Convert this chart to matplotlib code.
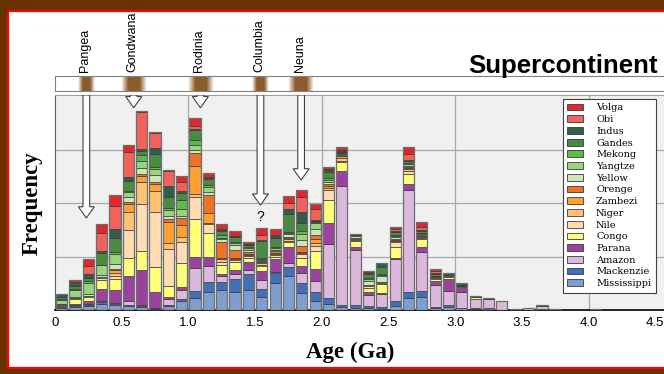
import numpy as np
import matplotlib
matplotlib.use('Agg')
import matplotlib.pyplot as plt
from matplotlib.patches import Rectangle, FancyArrow, Patch
from matplotlib.transforms import blended_transform_factory

# --- data: stacked frequency per 0.1 Ga age bin (bins 0.0-4.1 Ga) ---
bin_left = np.arange(41) * 0.1

mississippi = [0.04, 0.05, 0.08, 0.11, 0.09, 0.07, 0.05, 0.02, 0.07, 0.17, 0.22, 0.33, 0.37, 0.33, 0.38, 0.25, 0.50, 0.64, 0.31, 0.16,
               0.11, 0.05, 0.03, 0.03, 0.02, 0.07, 0.22, 0.25, 0.03, 0.06, 0.03, 0.01, 0, 0, 0, 0, 0, 0, 0, 0, 0]
mackenzie = [0.02, 0.03, 0.02, 0.04, 0.03, 0.03, 0.02, 0.01, 0.02, 0.04, 0.14, 0.20, 0.16, 0.25, 0.29, 0.14, 0.19, 0.16, 0.20, 0.17,
             0.11, 0.04, 0.06, 0.04, 0.03, 0.09, 0.12, 0.11, 0.03, 0.04, 0.01, 0.03, 0.03, 0, 0.02, 0, 0.02, 0, 0, 0, 0.02]
amazon = [0.01, 0.02, 0.01, 0.02, 0.02, 0.06, 0.03, 0.01, 0.12, 0.17, 0.42, 0.30, 0.10, 0.09, 0.08, 0.17, 0.02, 0.07, 0.19, 0.21,
          1.02, 2.23, 1.04, 0.21, 0.25, 0.80, 1.90, 0.73, 0.40, 0.25, 0.30, 0.17, 0.17, 0.17, 0, 0.04, 0.05, 0, 0, 0, 0]
parana = [0.01, 0.02, 0.05, 0.23, 0.24, 0.47, 0.64, 0.29, 0.03, 0.05, 0.21, 0.16, 0.05, 0.07, 0.14, 0.17, 0.25, 0.31, 0.12, 0.23,
          0.39, 0.27, 0.05, 0.06, 0.02, 0.02, 0.11, 0.09, 0.09, 0.23, 0.09, 0, 0, 0, 0, 0, 0, 0, 0, 0, 0]
congo = [0.02, 0.08, 0.09, 0.16, 0.20, 0.35, 0.37, 0.47, 0.20, 0.44, 0.71, 0.45, 0.17, 0.15, 0.09, 0.09, 0.03, 0.09, 0.16, 0.33,
         0.42, 0.17, 0.11, 0.08, 0.16, 0.19, 0.19, 0.14, 0.03, 0.03, 0.01, 0.03, 0, 0, 0, 0, 0, 0, 0, 0, 0]
nile = [0, 0.02, 0.01, 0.03, 0.06, 0.52, 0.87, 1.03, 0.70, 0.40, 0.42, 0.17, 0.04, 0.04, 0.03, 0.03, 0.03, 0.02, 0.06, 0.09,
        0.19, 0.03, 0.02, 0.02, 0.02, 0.10, 0.06, 0.02, 0.02, 0.03, 0, 0, 0, 0, 0, 0, 0, 0, 0, 0, 0]
niger = [0.01, 0.01, 0.01, 0.03, 0.06, 0.33, 0.42, 0.40, 0.12, 0.09, 0.05, 0.02, 0.06, 0.02, 0.02, 0.02, 0.03, 0.03, 0.03, 0.06,
         0.04, 0.06, 0.02, 0.02, 0.03, 0.02, 0.03, 0.02, 0.02, 0.02, 0, 0, 0, 0, 0, 0, 0, 0, 0, 0, 0]
zambezi = [0, 0, 0, 0, 0.04, 0.16, 0.11, 0.12, 0.39, 0.22, 0.52, 0.19, 0.03, 0.02, 0.02, 0.02, 0.02, 0.02, 0.02, 0.07,
           0.04, 0.02, 0.02, 0, 0, 0.02, 0.03, 0.02, 0, 0, 0, 0, 0, 0, 0, 0, 0, 0, 0, 0, 0]
orenge = [0, 0, 0, 0, 0.03, 0.03, 0.04, 0.04, 0.06, 0.14, 0.24, 0.33, 0.30, 0.15, 0.03, 0.02, 0.03, 0.02, 0.10, 0.08,
          0.04, 0.02, 0, 0, 0, 0.02, 0.02, 0.02, 0.02, 0, 0, 0, 0, 0, 0, 0, 0, 0, 0, 0, 0]
yellow = [0.01, 0.02, 0.02, 0.04, 0.09, 0.09, 0.11, 0.14, 0.04, 0.03, 0.07, 0.06, 0.04, 0.10, 0.04, 0.02, 0.03, 0.06, 0.12, 0.11,
          0.03, 0.02, 0.03, 0.09, 0.10, 0.03, 0.02, 0.02, 0, 0, 0, 0, 0, 0, 0, 0, 0, 0, 0, 0, 0]
yangtze = [0.06, 0.12, 0.22, 0.19, 0.19, 0.09, 0.12, 0.11, 0.12, 0.14, 0.08, 0.09, 0.03, 0.03, 0.03, 0.02, 0.03, 0.02, 0.11, 0.12,
           0.04, 0.02, 0.02, 0.03, 0.02, 0.03, 0.02, 0.02, 0, 0, 0, 0, 0, 0, 0, 0, 0, 0, 0, 0, 0]
mekong = [0.02, 0.02, 0.03, 0, 0.04, 0.03, 0.11, 0.04, 0.03, 0.16, 0.09, 0.04, 0.05, 0.03, 0.02, 0.02, 0.02, 0.02, 0.05, 0.02,
          0.03, 0.01, 0, 0.02, 0.02, 0.02, 0.02, 0, 0, 0, 0, 0, 0, 0, 0, 0, 0, 0, 0, 0, 0]
gandes = [0.05, 0.06, 0.05, 0.22, 0.25, 0.19, 0.09, 0.23, 0.22, 0.14, 0.19, 0.10, 0.07, 0.08, 0.05, 0.32, 0.17, 0.33, 0.15, 0.02,
          0.12, 0.02, 0.01, 0.07, 0.14, 0.04, 0.04, 0.04, 0.03, 0, 0.03, 0, 0, 0, 0, 0, 0, 0.02, 0, 0, 0]
indus = [0.05, 0.06, 0.08, 0.03, 0.17, 0.06, 0.03, 0.11, 0.19, 0.03, 0.03, 0.03, 0.02, 0.02, 0.02, 0.02, 0.03, 0.09, 0.21, 0.02,
         0.03, 0.02, 0.01, 0.02, 0.07, 0.03, 0.03, 0.02, 0.02, 0.04, 0.04, 0.03, 0.02, 0, 0, 0, 0.02, 0, 0, 0, 0]
obi = [0, 0.02, 0.16, 0.34, 0.44, 0.47, 0.69, 0.28, 0.28, 0.17, 0.04, 0.01, 0.02, 0.01, 0, 0.10, 0.02, 0.12, 0.28, 0.19,
       0.02, 0.02, 0, 0.02, 0, 0.03, 0.11, 0.05, 0.03, 0, 0, 0, 0, 0, 0, 0, 0, 0, 0, 0, 0]
volga = [0, 0.03, 0.12, 0.16, 0.20, 0.14, 0.02, 0.02, 0.03, 0.12, 0.15, 0.08, 0.09, 0.09, 0.04, 0.12, 0.11, 0.14, 0.14, 0.11,
         0.04, 0.04, 0, 0.02, 0, 0.04, 0.12, 0.10, 0.04, 0, 0, 0, 0, 0, 0, 0, 0, 0, 0, 0, 0]

rivers = ['Mississippi', 'Mackenzie', 'Amazon', 'Parana', 'Congo', 'Nile', 'Niger', 'Zambezi',
          'Orenge', 'Yellow', 'Yangtze', 'Mekong', 'Gandes', 'Indus', 'Obi', 'Volga']
series = [mississippi, mackenzie, amazon, parana, congo, nile, niger, zambezi,
          orenge, yellow, yangtze, mekong, gandes, indus, obi, volga]
colors = ['#7f9ed0', '#4170b8', '#dcb9dc', '#9b42a0', '#ffff7a', '#ffdcb2', '#ffc273', '#ffa033',
          '#f07228', '#cbe8ba', '#9bd47e', '#5dbb4a', '#4a8b42', '#2f5e4e', '#f0625a', '#e0282a']

# supercontinents: label, age of arrow (Ga), arrow tip, patch width in the strip
sc_names = ['Pangea', 'Gondwana', 'Rodinia', 'Columbia', 'Neuna']
sc_age = [0.235, 0.59, 1.09, 1.54, 1.845]
sc_tip = [1.72, 3.78, 3.78, 1.96, 2.43]
sc_width = [0.12, 0.19, 0.19, 0.12, 0.19]

xticks = [0, 0.5, 1.0, 1.5, 2.0, 2.5, 3.0, 3.5, 4.0, 4.5]
xticklabels = ['0', '0.5', '1.0', '1.5', '2.0', '2.5', '3.0', '3.5', '4.0', '4.5']

# --- figure ---
W, H = 664, 374
fig = plt.figure(figsize=(W / 100, H / 100), dpi=100)
fig.patch.set_facecolor('#663300')
fig.patches.append(Rectangle((8 / W, 1 - 368 / H), 2, (368 - 11) / H, transform=fig.transFigure,
                             facecolor='white', edgecolor='#ff0000', linewidth=1.6, zorder=-5))

xmax = 4.6
px_per_ga = 133.4
ax = fig.add_axes([55 / W, 1 - 310 / H, xmax * px_per_ga / W, 215 / H])
ax.set_facecolor('#f0f0f0')
ax.set_xlim(0, xmax)
ax.set_ylim(0, 215 / 53.5)

bw = 0.084
bottom = np.zeros(len(bin_left))
for vals, c in zip(series, colors):
    vals = np.array(vals)
    ax.bar(bin_left + 0.05, vals, width=bw, bottom=bottom, color=c,
           edgecolor='#3a3a3a', linewidth=0.5, zorder=3)
    bottom += vals
mask = bottom > 0
ax.bar(bin_left[mask] + 0.05, bottom[mask], width=bw, fill=False,
       edgecolor='#6e6e6e', linewidth=0.9, zorder=4)

ax.set_yticks([1, 2, 3])
ax.set_yticklabels([])
ax.set_xticks(xticks)
ax.set_xticklabels(xticklabels, fontsize=9.5, family='Liberation Sans')
ax.tick_params(axis='both', which='both', length=0)
ax.tick_params(axis='x', pad=5)
for y in [1, 2, 3]:
    ax.axhline(y, color='#a8a8a8', linewidth=0.9, zorder=1)
for x in [1, 2, 3, 4]:
    ax.axvline(x, color='#a8a8a8', linewidth=0.9, zorder=1)
ax.spines['left'].set_color('#606060')
ax.spines['top'].set_color('#a0a0a0')
ax.spines['bottom'].set_color('black')
ax.spines['bottom'].set_linewidth(1.2)
ax.spines['right'].set_visible(False)

# arrows pointing at supercontinent peaks
top = 215 / 53.5
for age, tip in zip(sc_age, sc_tip):
    ax.add_patch(FancyArrow(age, top, 0, tip - top, width=0.05, head_width=0.12, head_length=0.21,
                            length_includes_head=True, facecolor='white', edgecolor='#404040',
                            linewidth=0.8, zorder=6))
ax.text(1.535, 1.74, '?', ha='center', va='center', fontsize=10, family='Liberation Sans', zorder=6)

# strip with supercontinent bands
ax_s = fig.add_axes([55 / W, 1 - 91 / H, xmax * px_per_ga / W, 15 / H])
ax_s.set_xticks([])
ax_s.set_yticks([])
for sp in ax_s.spines.values():
    sp.set_color('#808080')
t = np.linspace(-1, 1, 60)
alpha = np.clip(1.8 * (1 - np.abs(t)), 0, 1)
for age, w in zip(sc_age, sc_width):
    img = np.zeros((1, len(t), 4))
    img[..., 0] = 0.55
    img[..., 1] = 0.36
    img[..., 2] = 0.17
    img[..., 3] = alpha
    ax_s.imshow(img, extent=[age - w / 2, age + w / 2, 0, 1], aspect='auto', interpolation='bilinear')
ax_s.set_xlim(0, xmax)
ax_s.set_ylim(0, 1)

trans = blended_transform_factory(ax.transData, fig.transFigure)
for name, age in zip(sc_names, sc_age):
    fig.text(age - 0.01, 1 - 72.5 / H, name, rotation=90, ha='center', va='bottom',
             fontsize=9, family='Liberation Sans', transform=trans)

fig.text(468 / W, 1 - 73 / H, 'Supercontinent', fontsize=18.6, fontweight='bold',
         family='Liberation Sans', ha='left', va='baseline')

fig.text(32 / W, 1 - 203 / H, 'Frequency', rotation=90, fontsize=16.5, fontweight='bold',
         family='Liberation Serif', ha='center', va='center')
fig.text(350 / W, 1 - 352 / H, 'Age (Ga)', fontsize=16.5, fontweight='bold',
         family='Liberation Serif', ha='center', va='center')

handles = [Patch(facecolor=c, edgecolor='#3a3a3a', linewidth=0.6) for c in colors][::-1]
leg = fig.legend(handles, rivers[::-1], loc='upper left', bbox_to_anchor=(563 / W, 1 - 99 / H),
                 bbox_transform=fig.transFigure, borderaxespad=0, borderpad=0.45,
                 labelspacing=0.28, handlelength=1.65, handleheight=0.7, handletextpad=1.3,
                 fancybox=False, framealpha=1, edgecolor='#404040',
                 prop={'family': 'DejaVu Serif', 'size': 7})
leg.get_frame().set_linewidth(0.8)

fig.savefig('out.png', dpi=100, facecolor=fig.get_facecolor())
